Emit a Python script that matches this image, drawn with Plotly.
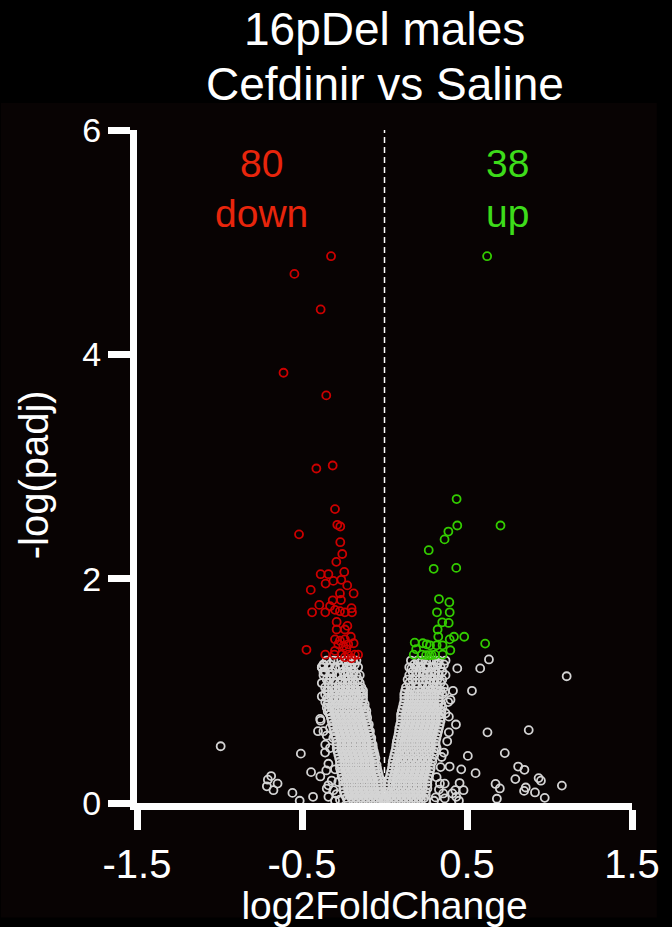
import plotly.graph_objects as go

# ---------------- data ----------------
x_tick_vals = [-1.5, -0.5, 0.5, 1.5]
x_tick_text = ["-1.5", "-0.5", "0.5", "1.5"]
y_tick_vals = [0, 2, 4, 6]
y_tick_text = ["0", "2", "4", "6"]

title_lines = ["16pDel males", "Cefdinir vs Saline"]
x_title = "log2FoldChange"
y_title = "-log(padj)"
down_count = "80"
up_count = "38"

# significant down-regulated genes (red)
down_x = [-0.324, -0.546, -0.387, -0.612, -0.353, -0.413, -0.314, -0.300,
          -0.286, -0.268, -0.518, -0.268, -0.256, -0.292, -0.387, -0.340,
          -0.244, -0.310, -0.262, -0.357, -0.226, -0.447,
          -0.270, -0.187, -0.314, -0.264, -0.395, -0.439, -0.359, -0.330,
          -0.300, -0.270, -0.240, -0.200, -0.197, -0.290, -0.225, -0.240,
          -0.290, -0.204, -0.300, -0.270, -0.240, -0.280, -0.250, -0.220,
          -0.187, -0.473, -0.231, -0.300, -0.359, -0.304, -0.260, -0.220,
          -0.180, -0.160, -0.240, -0.200]
down_y = [4.875, 4.717, 4.400, 3.836, 3.634, 2.982, 3.009, 2.620,
          2.480, 2.465, 2.395, 2.325, 2.220, 2.150, 2.040, 2.040,
          2.060, 1.980, 1.990, 1.956, 1.940, 1.900,
          1.868, 1.868, 1.807, 1.810, 1.766, 1.700, 1.700, 1.754,
          1.722, 1.710, 1.700, 1.737, 1.700, 1.614, 1.579, 1.547,
          1.547, 1.482, 1.459, 1.447, 1.459, 1.415, 1.400, 1.415,
          1.424, 1.366, 1.371, 1.357, 1.322, 1.322, 1.322, 1.322,
          1.322, 1.322, 1.300, 1.290]

# significant up-regulated genes (green)
up_x = [0.622, 0.437, 0.441, 0.703, 0.387, 0.364, 0.268, 0.298, 0.435,
        0.330, 0.393, 0.318, 0.395, 0.350, 0.389, 0.322, 0.326, 0.421,
        0.483, 0.395, 0.183, 0.232, 0.256, 0.276, 0.316, 0.352, 0.610,
        0.192, 0.399, 0.177, 0.226, 0.252, 0.272, 0.286, 0.306, 0.352]
up_y = [4.875, 2.710, 2.474, 2.474, 2.420, 2.350, 2.254, 2.088, 2.096,
        1.818, 1.790, 1.700, 1.700, 1.611, 1.605, 1.547, 1.482, 1.482,
        1.482, 1.459, 1.430, 1.424, 1.415, 1.406, 1.406, 1.406, 1.421,
        1.371, 1.362, 1.322, 1.322, 1.318, 1.318, 1.318, 1.322, 1.322]

# non-significant genes: dense volcano arms, one row per -log(padj) level
ns_rows_y = [1.27, 1.235, 1.21, 1.17, 1.14, 1.10, 1.07, 1.03, 1.00, 0.97, 0.94,
             0.91, 0.88, 0.85, 0.82, 0.79, 0.76, 0.73, 0.70,
             0.67, 0.64, 0.61, 0.58, 0.55, 0.52, 0.49, 0.46, 0.43, 0.40,
             0.37, 0.34, 0.31, 0.28, 0.25, 0.22, 0.19, 0.16, 0.13, 0.10,
             0.07, 0.045, 0.02]
ns_rows_x_left = [
    [-0.35, -0.31, -0.28, -0.24, -0.22, -0.19, -0.17],
    [-0.37, -0.33, -0.26, -0.21, -0.18],
    [-0.38, -0.34, -0.30, -0.27, -0.23, -0.20, -0.16],
    [-0.36, -0.32, -0.25, -0.22, -0.185],
    [-0.37, -0.33, -0.29, -0.27, -0.24, -0.20, -0.17, -0.15],
    [-0.35, -0.31, -0.26, -0.22, -0.19, -0.16],
    [-0.38, -0.34, -0.30, -0.27, -0.24, -0.21, -0.18, -0.15],
    [-0.36, -0.32, -0.28, -0.25, -0.22, -0.19, -0.16, -0.14],
    [-0.34, -0.30, -0.27, -0.24, -0.21, -0.18, -0.15, -0.13],
    [-0.36, -0.32, -0.29, -0.26, -0.23, -0.20, -0.17, -0.14, -0.13],
    [-0.345, -0.31, -0.275, -0.245, -0.215, -0.185, -0.155, -0.13],
    [-0.34, -0.31, -0.28, -0.25, -0.22, -0.19, -0.16, -0.13],
    [-0.345, -0.315, -0.285, -0.255, -0.225, -0.195, -0.165, -0.135, -0.12],
    [-0.35, -0.32, -0.29, -0.26, -0.23, -0.20, -0.17, -0.14, -0.12],
    [-0.335, -0.305, -0.275, -0.245, -0.215, -0.185, -0.155, -0.125, -0.11],
    [-0.33, -0.30, -0.27, -0.24, -0.21, -0.18, -0.15, -0.12, -0.11],
    [-0.325, -0.295, -0.265, -0.235, -0.205, -0.175, -0.145, -0.115, -0.105],
    [-0.32, -0.29, -0.26, -0.23, -0.20, -0.17, -0.14, -0.11],
    [-0.315, -0.285, -0.255, -0.225, -0.195, -0.165, -0.135, -0.105, -0.095],
    [-0.31, -0.28, -0.25, -0.22, -0.19, -0.16, -0.13, -0.10],
    [-0.305, -0.275, -0.245, -0.215, -0.185, -0.155, -0.125, -0.095, -0.088],
    [-0.30, -0.27, -0.24, -0.21, -0.18, -0.15, -0.12, -0.09],
    [-0.295, -0.265, -0.235, -0.205, -0.175, -0.145, -0.115, -0.085, -0.08],
    [-0.29, -0.26, -0.23, -0.20, -0.17, -0.14, -0.11, -0.08],
    [-0.29, -0.26, -0.23, -0.20, -0.17, -0.14, -0.11, -0.08, -0.072],
    [-0.29, -0.26, -0.23, -0.20, -0.17, -0.14, -0.11, -0.08, -0.07],
    [-0.285, -0.255, -0.225, -0.195, -0.165, -0.135, -0.105, -0.075, -0.065],
    [-0.28, -0.25, -0.22, -0.19, -0.16, -0.13, -0.10, -0.07, -0.06],
    [-0.275, -0.245, -0.215, -0.185, -0.155, -0.125, -0.095, -0.065, -0.055],
    [-0.27, -0.24, -0.21, -0.18, -0.15, -0.12, -0.09, -0.06],
    [-0.27, -0.24, -0.21, -0.18, -0.15, -0.12, -0.09, -0.06, -0.048],
    [-0.27, -0.24, -0.21, -0.18, -0.15, -0.12, -0.09, -0.06, -0.045],
    [-0.265, -0.235, -0.205, -0.175, -0.145, -0.115, -0.085, -0.055, -0.04],
    [-0.26, -0.23, -0.20, -0.17, -0.14, -0.11, -0.08, -0.05, -0.035],
    [-0.255, -0.225, -0.195, -0.165, -0.135, -0.105, -0.075, -0.045, -0.03],
    [-0.25, -0.22, -0.19, -0.16, -0.13, -0.10, -0.07, -0.04, -0.025],
    [-0.25, -0.22, -0.19, -0.16, -0.13, -0.10, -0.07, -0.04, -0.022],
    [-0.25, -0.22, -0.19, -0.16, -0.13, -0.10, -0.07, -0.04, -0.02],
    [-0.245, -0.215, -0.185, -0.155, -0.125, -0.095, -0.065, -0.035, -0.015],
    [-0.24, -0.21, -0.18, -0.15, -0.12, -0.09, -0.06, -0.03, -0.01],
    [-0.23, -0.20, -0.17, -0.14, -0.11, -0.08, -0.05, -0.02, -0.005],
    [-0.22, -0.19, -0.16, -0.13, -0.10, -0.07, -0.04, -0.01, 0.0],
]
ns_rows_x_right = [
    [0.16, 0.20, 0.23, 0.27, 0.30, 0.33, 0.37],
    [0.18, 0.25, 0.32, 0.36],
    [0.15, 0.19, 0.22, 0.26, 0.29, 0.34],
    [0.17, 0.21, 0.24, 0.28, 0.31, 0.35],
    [0.15, 0.19, 0.23, 0.26, 0.30, 0.33, 0.37],
    [0.14, 0.17, 0.21, 0.25, 0.28, 0.32, 0.35],
    [0.15, 0.19, 0.23, 0.27, 0.30, 0.34],
    [0.13, 0.16, 0.20, 0.23, 0.26, 0.29, 0.32, 0.36],
    [0.125, 0.155, 0.185, 0.22, 0.25, 0.28, 0.31, 0.34],
    [0.12, 0.15, 0.18, 0.21, 0.24, 0.27, 0.30, 0.33, 0.35],
    [0.12, 0.15, 0.18, 0.21, 0.24, 0.27, 0.30, 0.33],
    [0.12, 0.15, 0.18, 0.21, 0.24, 0.27, 0.30, 0.33],
    [0.115, 0.145, 0.175, 0.205, 0.235, 0.265, 0.295, 0.325, 0.345],
    [0.11, 0.14, 0.17, 0.20, 0.23, 0.26, 0.29, 0.32, 0.35],
    [0.105, 0.135, 0.165, 0.195, 0.225, 0.255, 0.285, 0.315, 0.345],
    [0.10, 0.13, 0.16, 0.19, 0.22, 0.25, 0.28, 0.31, 0.34],
    [0.10, 0.13, 0.16, 0.19, 0.22, 0.25, 0.28, 0.31, 0.34],
    [0.10, 0.13, 0.16, 0.19, 0.22, 0.25, 0.28, 0.31, 0.34],
    [0.095, 0.125, 0.155, 0.185, 0.215, 0.245, 0.275, 0.305, 0.335],
    [0.09, 0.12, 0.15, 0.18, 0.21, 0.24, 0.27, 0.30, 0.33],
    [0.088, 0.115, 0.145, 0.175, 0.205, 0.235, 0.265, 0.295, 0.325],
    [0.085, 0.11, 0.14, 0.17, 0.20, 0.23, 0.26, 0.29, 0.32],
    [0.08, 0.105, 0.135, 0.165, 0.195, 0.225, 0.255, 0.285, 0.315],
    [0.075, 0.10, 0.13, 0.16, 0.19, 0.22, 0.25, 0.28, 0.31],
    [0.072, 0.10, 0.13, 0.16, 0.19, 0.22, 0.25, 0.28, 0.31],
    [0.07, 0.10, 0.13, 0.16, 0.19, 0.22, 0.25, 0.28, 0.31],
    [0.065, 0.09, 0.12, 0.15, 0.18, 0.21, 0.24, 0.27, 0.30],
    [0.06, 0.09, 0.12, 0.15, 0.18, 0.21, 0.24, 0.27, 0.30],
    [0.055, 0.08, 0.11, 0.14, 0.17, 0.20, 0.23, 0.26, 0.29],
    [0.05, 0.08, 0.11, 0.14, 0.17, 0.20, 0.23, 0.26, 0.29],
    [0.048, 0.07, 0.10, 0.13, 0.16, 0.19, 0.22, 0.25, 0.28],
    [0.045, 0.07, 0.10, 0.13, 0.16, 0.19, 0.22, 0.25, 0.28],
    [0.04, 0.065, 0.095, 0.125, 0.155, 0.185, 0.215, 0.245, 0.275],
    [0.035, 0.06, 0.09, 0.12, 0.15, 0.18, 0.21, 0.24, 0.27],
    [0.03, 0.055, 0.085, 0.115, 0.145, 0.175, 0.205, 0.235, 0.265],
    [0.025, 0.05, 0.08, 0.11, 0.14, 0.17, 0.20, 0.23, 0.26],
    [0.022, 0.05, 0.08, 0.11, 0.14, 0.17, 0.20, 0.23, 0.26],
    [0.02, 0.05, 0.08, 0.11, 0.14, 0.17, 0.20, 0.23, 0.26],
    [0.015, 0.04, 0.07, 0.10, 0.13, 0.16, 0.19, 0.22, 0.25],
    [0.01, 0.04, 0.07, 0.10, 0.13, 0.16, 0.19, 0.22, 0.25],
    [0.005, 0.03, 0.06, 0.09, 0.12, 0.15, 0.18, 0.21, 0.24],
    [0.01, 0.04, 0.07, 0.10, 0.13, 0.16, 0.19, 0.22, 0.25],
]

# non-significant scattered genes
ns_out_x = [0.633, 0.580, 1.104, 0.530, 0.433, 0.390, 0.624, 0.874, 0.505, 0.729,
            0.395, 0.465, 0.552, 0.810, 0.848, 0.793, 0.934, 0.948, 1.075, 0.673,
            0.699, 0.455, 0.479, 0.429, 0.411, 0.846, 0.856, 0.912, 0.971, 0.681,
            0.451, 0.365, 0.365, 0.163, 0.216, 0.326, 0.441, 0.415, 0.365, 0.386,
            0.346, 0.316, 0.356, 0.435, 0.336, 0.316,
            0.370, 0.380, 0.360, 0.340, 0.330, 0.310, 0.300, 0.400, 0.390,
            -0.993, -0.507, -0.387, -0.403, -0.445, -0.389, -0.353, -0.687, -0.707,
            -0.648, -0.713, -0.673, -0.558, -0.514, -0.433, -0.350, -0.340, -0.310,
            -0.340, -0.359, -0.330, -0.310, -0.280, -0.370, -0.350, -0.330, -0.344,
            -0.359, -0.370, -0.380, -0.370, -0.330, -0.350, -0.330,
            -0.380, -0.390, -0.360, -0.340, -0.300, -0.320, -0.290, -0.270, -0.300]
ns_out_y = [1.280, 1.200, 1.130, 1.000, 0.700, 0.630, 0.630, 0.650, 0.420, 0.445,
            0.325, 0.300, 0.266, 0.325, 0.296, 0.213, 0.222, 0.199, 0.155, 0.170,
            0.130, 0.178, 0.114, 0.114, 0.085, 0.108, 0.138, 0.094, 0.046, 0.038,
            0.020, 0.173, 0.041, 1.200, 1.250, 1.250, 1.200, 1.000, 0.990, 0.900,
            0.410, 0.490, 0.085, 0.055, 0.173, 0.230,
            0.800, 0.550, 0.450, 0.320, 0.120, 0.050, 0.020, 0.920, 0.770,
            0.506, 0.440, 0.734, 0.640, 0.275, 0.237, 0.290, 0.240, 0.208,
            0.173, 0.149, 0.114, 0.090, 0.020, 0.055, 0.129, 0.158, 0.114,
            0.055, 0.520, 0.490, 0.580, 0.187, 0.640, 0.600, 0.670, 0.816,
            0.900, 1.230, 1.210, 1.170, 1.110, 1.000, 0.790,
            0.950, 0.750, 0.450, 0.350, 0.300, 0.200, 0.080, 0.030, 0.020]

# ---------------- build ----------------
ns_x, ns_y = [], []
for yv, xs in zip(ns_rows_y, ns_rows_x_left):
    ns_x += xs
    ns_y += [yv] * len(xs)
for yv, xs in zip(ns_rows_y, ns_rows_x_right):
    ns_x += xs
    ns_y += [yv] * len(xs)
ns_x += ns_out_x
ns_y += ns_out_y

FONT = "Liberation Sans, Arial, Helvetica, sans-serif"
GREY = "#d4d4d4"
RED = "#cc0000"
GREEN = "#33cc00"

def marker(color):
    return dict(symbol="circle-open", size=8, color=color, line=dict(width=1.8, color=color))

fig = go.Figure()
fig.add_trace(go.Scatter(x=ns_x, y=ns_y, mode="markers", marker=marker(GREY),
                         showlegend=False, hoverinfo="skip"))
fig.add_trace(go.Scatter(x=down_x, y=down_y, mode="markers", marker=marker(RED),
                         showlegend=False))
fig.add_trace(go.Scatter(x=up_x, y=up_y, mode="markers", marker=marker(GREEN),
                         showlegend=False))

# dashed line at log2FoldChange = 0
fig.add_shape(type="line", xref="x", yref="y", x0=0, x1=0, y0=0, y1=6,
              line=dict(color="white", width=1.5, dash="6px,4px"), layer="below")
# slightly lighter plotting panel
fig.add_shape(type="rect", xref="paper", yref="paper", x0=-0.275, x1=1.05,
              y0=-0.17, y1=1.04, fillcolor="#080303", line=dict(width=0), layer="below")

# title (two lines)
fig.add_annotation(x=0.5, y=1.150, xref="paper", yref="paper", yanchor="middle",
                   text=title_lines[0], showarrow=False,
                   font=dict(family=FONT, size=46, color="white"))
fig.add_annotation(x=0.5, y=1.068, xref="paper", yref="paper", yanchor="middle",
                   text=title_lines[1], showarrow=False,
                   font=dict(family=FONT, size=46, color="white"))
# y axis title
fig.add_annotation(x=-0.208, y=0.487, xref="paper", yref="paper", textangle=-90,
                   xanchor="center", yanchor="middle", text=y_title, showarrow=False,
                   font=dict(family=FONT, size=40, color="white"))

fig.add_annotation(x=-0.745, y=5.70, xref="x", yref="y", text=down_count, showarrow=False,
                   font=dict(family=FONT, size=39, color="#e8250c"))
fig.add_annotation(x=-0.745, y=5.26, xref="x", yref="y", text="down", showarrow=False,
                   font=dict(family=FONT, size=39, color="#e8250c"))
fig.add_annotation(x=0.745, y=5.70, xref="x", yref="y", text=up_count, showarrow=False,
                   font=dict(family=FONT, size=39, color="#3ddc1a"))
fig.add_annotation(x=0.745, y=5.26, xref="x", yref="y", text="up", showarrow=False,
                   font=dict(family=FONT, size=39, color="#3ddc1a"))

fig.update_layout(
    width=672, height=927,
    margin=dict(l=137, r=34, t=130, b=117),
    paper_bgcolor="#000000", plot_bgcolor="rgba(0,0,0,0)",
    font=dict(family=FONT, color="white"),
    xaxis=dict(range=[-1.5, 1.5], tickvals=x_tick_vals, ticktext=x_tick_text,
               showgrid=False, zeroline=False, showline=True, linecolor="white",
               linewidth=7, ticks="outside", ticklen=20, tickwidth=7, tickcolor="white",
               tickfont=dict(family=FONT, size=40, color="white"),
               title=dict(text=x_title, standoff=2,
                          font=dict(family=FONT, size=39, color="white"))),
    yaxis=dict(range=[0, 6], tickvals=y_tick_vals, ticktext=y_tick_text,
               showgrid=False, zeroline=False, showline=True, linecolor="white",
               linewidth=7, ticks="outside", ticklen=22, tickwidth=7, tickcolor="white",
               tickfont=dict(family=FONT, size=34, color="white")),
)

fig.write_html("out.html")
